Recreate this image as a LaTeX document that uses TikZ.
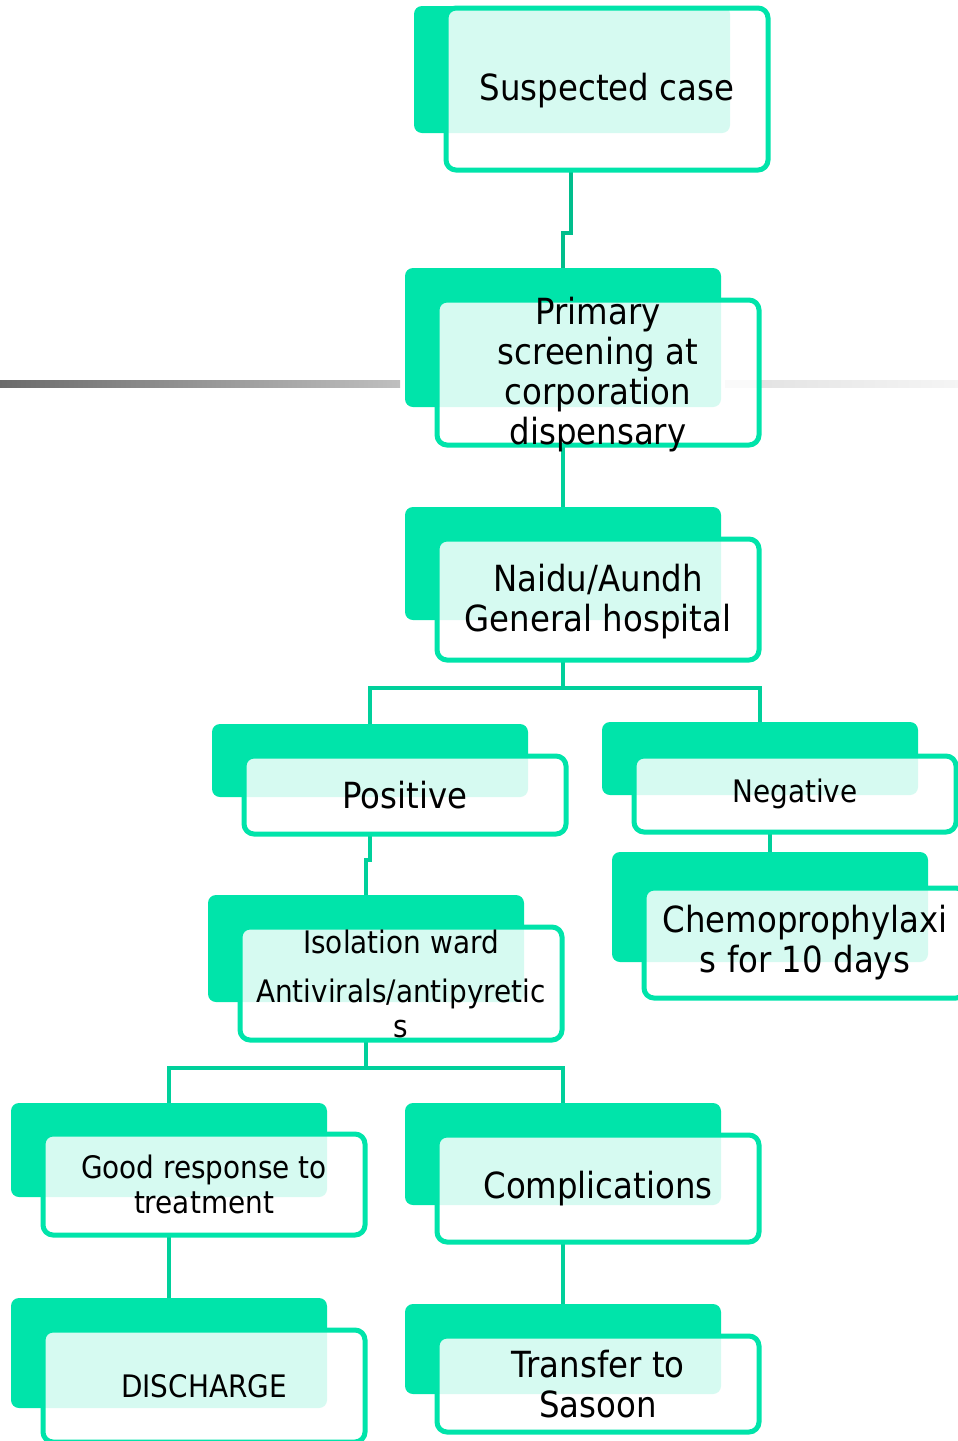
\documentclass[tikz,border=0pt]{standalone}
\usepackage{fontspec}
\setmainfont{DejaVu Sans}[FakeStretch=0.9]
\usetikzlibrary{backgrounds}
\definecolor{grn}{RGB}{0,228,170}
\definecolor{conn}{RGB}{0,208,155}
\definecolor{conndark}{RGB}{0,190,140}
\tikzset{
  backbox/.style={fill=grn, rounded corners=8pt, anchor=north west, inner sep=0pt, outer sep=0pt, minimum width=316pt},
  frontbox/.style={draw=grn, line width=5pt, fill=white, fill opacity=0.84, draw opacity=1, rounded corners=10pt, anchor=north west, inner sep=0pt, outer sep=0pt, minimum width=322pt},
  big/.style={font=\fontsize{36}{40}\selectfont, align=center, inner sep=0pt},
  small/.style={font=\fontsize{31}{35}\selectfont, align=center, inner sep=0pt},
  link/.style={draw=conn, line width=4.5pt},
}
\begin{document}
\begin{tikzpicture}[x=1pt,y=-1pt]
\useasboundingbox (0,0) rectangle (958,1441);
\clip (0,0) rectangle (958,1441);
% decorative gray rule
\shade[left color=black!58, right color=black!25] (0,380) rectangle (400,387);
\shade[left color=black!12, right color=black!4] (725,380) rectangle (958,387);

% boxes
\node[backbox, minimum height=127pt] (b1) at (414,6) {};
\node[frontbox, minimum height=162pt] (f1) at (446,8) {};
\node[big] (t1) at ([yshift=-2pt]f1.center) {Suspected case};

\node[backbox, minimum height=139pt] (b2) at (405,268) {};
\node[frontbox, minimum height=145pt] (f2) at (437,300) {};
\node[big] (t2) at ([yshift=-2pt]f2.center) {Primary\\screening at\\corporation\\dispensary};

\node[backbox, minimum height=113pt] (b3) at (405,507) {};
\node[frontbox, minimum height=121pt] (f3) at (437,539) {};
\node[big] (t3) at ([yshift=-2pt]f3.center) {Naidu/Aundh\\General hospital};

\node[backbox, minimum height=73pt] (b4) at (212,724) {};
\node[frontbox, minimum height=78pt] (f4) at (244,756) {};
\node[big] (t4) at (f4) {Positive};

\node[backbox, minimum height=73pt] (b5) at (602,722) {};
\node[frontbox, minimum height=76pt] (f5) at (634,756) {};
\node[small] (t5) at (f5) {Negative};

\node[backbox, minimum height=110pt] (b6) at (612,852) {};
\node[frontbox, minimum height=110pt] (f6) at (644,888) {};
\node[big] (t6) at (f6) {Chemoprophylaxi\\s for 10 days};

\node[backbox, minimum height=107pt] (b7) at (208,895) {};
\node[frontbox, minimum height=113pt] (f7) at (240,927) {};
\node[small] (t7) at (f7) {Isolation ward\\[14pt]Antivirals/antipyretic\\s};

\node[backbox, minimum height=94pt] (b8) at (11,1103) {};
\node[frontbox, minimum height=101pt] (f8) at (43,1134) {};
\node[small] (t8) at (f8) {Good response to\\treatment};

\node[backbox, minimum height=110pt] (b9) at (11,1298) {};
\node[frontbox, minimum height=112pt] (f9) at (43,1330) {};
\node[small] (t9) at (f9) {DISCHARGE};

\node[backbox, minimum height=102pt] (b10) at (405,1103) {};
\node[frontbox, minimum height=107pt] (f10) at (437,1135) {};
\node[big] (t10) at (f10) {Complications};

\node[backbox, minimum height=90pt] (b11) at (405,1304) {};
\node[frontbox, minimum height=96pt] (f11) at (437,1336) {};
\node[big] (t11) at (f11) {Transfer to\\Sasoon};

% connectors
\begin{scope}[on background layer]
\draw[link, draw=conndark] ([xshift=-36pt]f1.south) -- ++(0,63) -| (b2.north);
\draw[link] (f2.south -| b2.south) -- (b3.north);
\draw[link] (f3.south -| b3.south) -- ++(0,28) coordinate (j1) -| (b4.north);
\draw[link] (j1) -| (b5.north);
\draw[link] (f4.south -| b4.south) -- ++(0,26) -| (b7.north);
\draw[link] (f5.south -| b6.north) -- (b6.north);
\draw[link] (f7.south -| b7.south) -- ++(0,28) coordinate (j2) -| (b8.north);
\draw[link] (j2) -| (b10.north);
\draw[link] (f8.south -| b8.south) -- (b9.north);
\draw[link] (f10.south -| b10.south) -- (b11.north);
\end{scope}
\end{tikzpicture}
\end{document}
